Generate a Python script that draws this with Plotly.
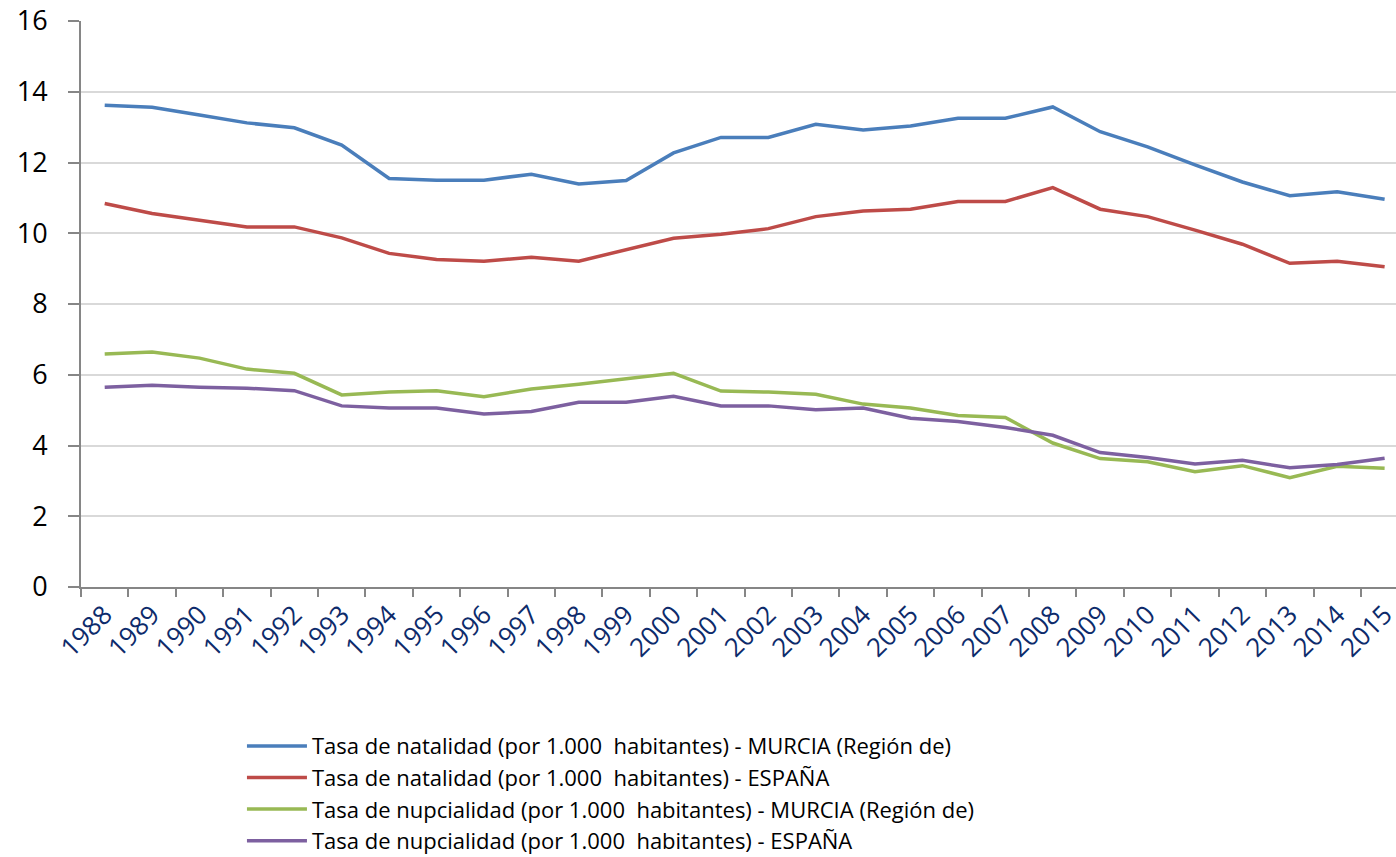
import plotly.graph_objects as go

years = [str(y) for y in range(1988, 2016)]

natalidad_murcia = [13.62, 13.56, 13.34, 13.12, 12.98, 12.49, 11.55, 11.50, 11.50, 11.67,
                    11.39, 11.49, 12.27, 12.71, 12.71, 13.08, 12.92, 13.03, 13.25, 13.25,
                    13.57, 12.87, 12.44, 11.93, 11.45, 11.06, 11.17, 10.96]
natalidad_espana = [10.84, 10.56, 10.37, 10.18, 10.18, 9.87, 9.43, 9.26, 9.21, 9.32,
                    9.21, 9.54, 9.86, 9.97, 10.13, 10.47, 10.63, 10.68, 10.90, 10.90,
                    11.29, 10.68, 10.47, 10.09, 9.69, 9.15, 9.21, 9.05]
nupcialidad_murcia = [6.59, 6.64, 6.47, 6.16, 6.04, 5.43, 5.51, 5.55, 5.38, 5.60,
                      5.73, 5.88, 6.04, 5.54, 5.51, 5.45, 5.17, 5.06, 4.85, 4.79,
                      4.07, 3.63, 3.54, 3.26, 3.43, 3.09, 3.41, 3.36]
nupcialidad_espana = [5.65, 5.70, 5.65, 5.62, 5.55, 5.12, 5.06, 5.06, 4.89, 4.96,
                      5.22, 5.22, 5.39, 5.12, 5.12, 5.01, 5.06, 4.77, 4.68, 4.51,
                      4.29, 3.80, 3.66, 3.48, 3.58, 3.37, 3.46, 3.64]

series = [
    ("Tasa de natalidad (por 1.000  habitantes) - MURCIA (Región de)", natalidad_murcia, "#4a7ebb"),
    ("Tasa de natalidad (por 1.000  habitantes) - ESPAÑA", natalidad_espana, "#be4b48"),
    ("Tasa de nupcialidad (por 1.000  habitantes) - MURCIA (Región de)", nupcialidad_murcia, "#98b954"),
    ("Tasa de nupcialidad (por 1.000  habitantes) - ESPAÑA", nupcialidad_espana, "#7d60a0"),
]

fig = go.Figure()
for name, vals, color in series:
    fig.add_trace(go.Scatter(x=years, y=vals, mode="lines", name=name,
                             line=dict(color=color, width=3.5)))

font = "Open Sans, sans-serif"

fig.update_layout(
    width=1396, height=857,
    margin=dict(l=81, r=0, t=21, b=270, autoexpand=False),
    plot_bgcolor="white", paper_bgcolor="white",
    font=dict(family=font, color="black"),
    legend=dict(x=0.1224, y=-0.244, xanchor="left", yanchor="top",
                font=dict(size=22, family=font, color="black"),
                itemwidth=60, tracegroupgap=0, traceorder="normal"),
)

fig.update_xaxes(
    type="category", range=[-0.5, 27.24], automargin=False,
    showline=True, linecolor="#868686", linewidth=2,
    ticks="outside", tickson="boundaries", ticklen=8, tickcolor="#868686", tickwidth=2,
    tickangle=-45, tickfont=dict(size=26, color="#0d2b6b", family=font),
    ticklabeloverflow="allow",
    showgrid=False,
)
fig.update_yaxes(
    range=[0, 16], dtick=2, automargin=False,
    showline=True, linecolor="#868686", linewidth=2,
    ticks="outside", ticklen=11, tickcolor="#868686", tickwidth=2,
    tickfont=dict(size=27, color="black", family=font),
    ticklabelstandoff=15, ticklabeloverflow="allow",
    showgrid=True, gridcolor="#d9d9d9", gridwidth=2,
    zeroline=False,
)

# drop the default 8px page margin so the figure fills the window
fig.write_html("out.html", config={"displayModeBar": False},
               post_script="document.body.style.margin='0';")
